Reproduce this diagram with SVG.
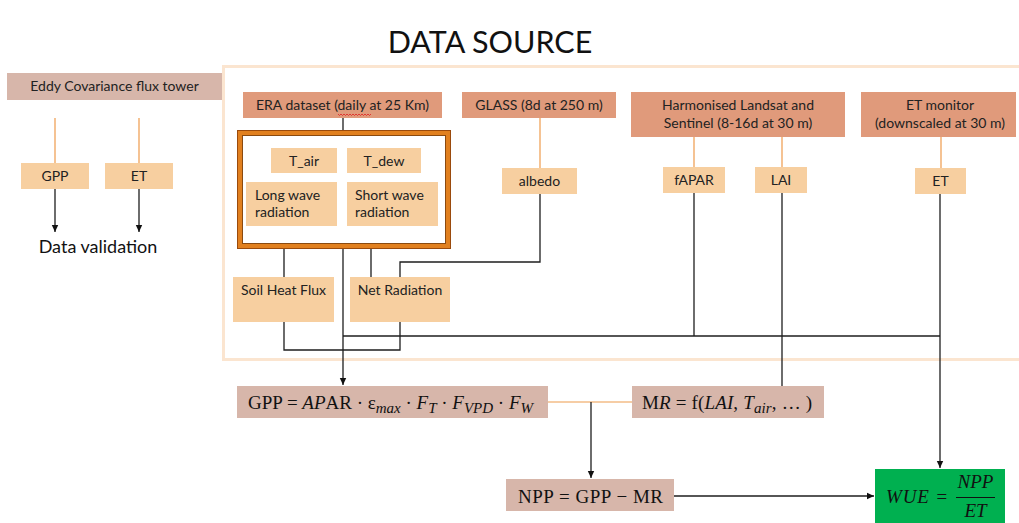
<svg xmlns="http://www.w3.org/2000/svg" width="1019" height="523" viewBox="0 0 1019 523">
<style>
.lbl{font-family:Lato,"Liberation Sans",sans-serif;font-size:14px;fill:#222;}
.math{font-family:"Liberation Serif",serif;font-size:19px;fill:#111;}
.it{font-style:italic;}
.brown{fill:#d7b6aa;}
.salmon{fill:#e09a7b;}
.peach{fill:#f7cfa0;}
.blk{stroke:#1e1e1e;stroke-width:1.3;fill:none;}
.org{stroke:#ee9b4c;stroke-width:1.2;fill:none;}
</style>
<defs>
<marker id="ah" markerWidth="8" markerHeight="8" refX="7" refY="4" orient="auto" markerUnits="userSpaceOnUse">
<path d="M0,0.8 L7,4 L0,7.2 Z" fill="#111"/>
</marker>
</defs>
<rect width="1019" height="523" fill="#fff"/>
<text x="490" y="53" text-anchor="middle" style="font-family:Lato,'Liberation Sans',sans-serif;font-size:30.5px;fill:#111">DATA SOURCE</text>
<rect x="223.5" y="66.5" width="800" height="293" fill="none" stroke="#fbe5d0" stroke-width="3"/>

<g id="eddy">
<rect class="brown" x="7" y="73" width="215" height="27"/>
<text class="lbl" x="114.5" y="91" text-anchor="middle">Eddy Covariance flux tower</text>
</g>
<g id="gpp-tower"><rect class="peach" x="21" y="163" width="68" height="26"/><text class="lbl" x="55" y="181" text-anchor="middle">GPP</text></g>
<g id="et-tower"><rect class="peach" x="105" y="163" width="68" height="26"/><text class="lbl" x="139" y="181" text-anchor="middle">ET</text></g>
<g id="validation"><text x="98" y="253" text-anchor="middle" style="font-family:Lato,'Liberation Sans',sans-serif;font-size:18px;fill:#111">Data validation</text></g>

<g id="era">
<rect class="salmon" x="243" y="92" width="199" height="26"/>
<text class="lbl" x="342.5" y="110" text-anchor="middle">ERA dataset (daily at 25 Km)</text>
<path d="M338,114 l1.5,1.5 l1.5,-1.5 l1.5,1.5 l1.5,-1.5 l1.5,1.5 l1.5,-1.5 l1.5,1.5 l1.5,-1.5 l1.5,1.5 l1.5,-1.5 l1.5,1.5 l1.5,-1.5 l1.5,1.5 l1.5,-1.5 l1.5,1.5 l1.5,-1.5 l1.5,1.5 l1.5,-1.5 l1.5,1.5 l1.5,-1.5 l1.5,1.5 l1.5,-1.5" fill="none" stroke="#e02020" stroke-width="0.8"/>
</g>
<g id="era-group">
<rect x="237.5" y="130.5" width="213" height="118" fill="none" stroke="#9a4a0c" stroke-width="1"/>
<rect x="240" y="133" width="208" height="113" fill="none" stroke="#e1801f" stroke-width="4"/>
<rect x="242.5" y="135.5" width="203" height="108" fill="#fff" stroke="#8a4a10" stroke-width="1"/>
</g>
<g id="tair"><rect class="peach" x="271" y="148" width="66" height="25"/><text class="lbl" x="304" y="165.5" text-anchor="middle">T_air</text></g>
<g id="tdew"><rect class="peach" x="347" y="148" width="74" height="25"/><text class="lbl" x="384" y="165.5" text-anchor="middle">T_dew</text></g>
<g id="longwave"><rect class="peach" x="246" y="182" width="91" height="44"/><text class="lbl" x="255" y="200">Long wave</text><text class="lbl" x="255" y="217">radiation</text></g>
<g id="shortwave"><rect class="peach" x="347" y="182" width="91" height="44"/><text class="lbl" x="355" y="200">Short wave</text><text class="lbl" x="355" y="217">radiation</text></g>

<g id="soil"><rect class="peach" x="233" y="277" width="101" height="45"/><text class="lbl" x="283.5" y="295" text-anchor="middle">Soil Heat Flux</text></g>
<g id="netrad"><rect class="peach" x="350" y="277" width="100" height="45"/><text class="lbl" x="400" y="295" text-anchor="middle">Net Radiation</text></g>

<g id="glass"><rect class="salmon" x="462" y="92" width="154" height="26"/><text class="lbl" x="539" y="110" text-anchor="middle">GLASS (8d at 250 m)</text></g>
<g id="albedo"><rect class="peach" x="502" y="168" width="75" height="26"/><text class="lbl" x="539.5" y="186" text-anchor="middle">albedo</text></g>

<g id="hls"><rect class="salmon" x="631" y="92" width="214" height="45"/><text class="lbl" x="738" y="110" text-anchor="middle">Harmonised Landsat and</text><text class="lbl" x="738" y="128" text-anchor="middle">Sentinel (8-16d at 30 m)</text></g>
<g id="fapar"><rect class="peach" x="663" y="167" width="62" height="26"/><text class="lbl" x="694" y="185" text-anchor="middle">fAPAR</text></g>
<g id="lai"><rect class="peach" x="755" y="167" width="52" height="26"/><text class="lbl" x="781" y="185" text-anchor="middle">LAI</text></g>

<g id="etmon"><rect class="salmon" x="861" y="92" width="155" height="45"/><text class="lbl" x="940" y="110" text-anchor="middle">ET monitor</text><text class="lbl" x="940" y="128" text-anchor="middle">(downscaled at 30 m)</text></g>
<g id="et"><rect class="peach" x="915" y="168" width="51" height="26"/><text class="lbl" x="940.5" y="186" text-anchor="middle">ET</text></g>

<g id="gpp">
<rect class="brown" x="237" y="386" width="311" height="32"/>
<text class="math" x="248" y="409" textLength="285" lengthAdjust="spacing">GPP = <tspan class="it">AP</tspan>AR · ε<tspan class="it" font-size="15" dy="4">max</tspan><tspan dy="-4"> · </tspan><tspan class="it">F</tspan><tspan class="it" font-size="15" dy="4">T</tspan><tspan dy="-4"> · </tspan><tspan class="it">F</tspan><tspan class="it" font-size="15" dy="4">VPD</tspan><tspan dy="-4"> · </tspan><tspan class="it">F</tspan><tspan class="it" font-size="15" dy="4">W</tspan></text>
</g>
<g id="mr">
<rect class="brown" x="632" y="386" width="192" height="32"/>
<text class="math" x="642" y="409" textLength="170" lengthAdjust="spacing">M<tspan class="it">R</tspan> = f(<tspan class="it">LAI</tspan>, <tspan class="it">T</tspan><tspan class="it" font-size="15" dy="4">air</tspan><tspan dy="-4">, … )</tspan></text>
</g>
<g id="npp">
<rect class="brown" x="506" y="479" width="168" height="32"/>
<text class="math" x="518" y="503" textLength="145" lengthAdjust="spacing">NPP = GPP − MR</text>
</g>
<g id="wue">
<rect x="875" y="469" width="130" height="54" fill="#00b050"/>
<text class="math it" x="886" y="503" font-size="20" textLength="62" lengthAdjust="spacing">WUE =</text>
<line x1="956" y1="497.5" x2="995" y2="497.5" stroke="#111" stroke-width="1"/>
<text class="math it" x="975.5" y="488" font-size="20" text-anchor="middle">NPP</text>
<text class="math it" x="975.5" y="517" font-size="20" text-anchor="middle">ET</text>
</g>

<g id="connectors">
<path class="org" d="M55,118 V163 M139,118 V163"/>
<path class="blk" d="M55,189 V232" marker-end="url(#ah)"/>
<path class="blk" d="M139,189 V232" marker-end="url(#ah)"/>
<path class="blk" d="M343,118 V130"/>
<path class="blk" d="M284,249 V277 M371,249 V277"/>
<path class="blk" d="M343,249 V385" marker-end="url(#ah)"/>
<path class="org" d="M540,118 V168"/>
<path class="blk" d="M540,194 V262 H400 V277"/>
<path class="blk" d="M284,322 V350 H400 V322"/>
<path class="blk" d="M343,336 H940"/>
<path class="org" d="M694,137 V167 M782,137 V167 M941,137 V168"/>
<path class="blk" d="M694,193 V336"/>
<path class="blk" d="M782,193 V386"/>
<path class="blk" d="M940,194 V468" marker-end="url(#ah)"/>
<path class="org" d="M548,402 H632"/>
<path class="blk" d="M591,402 V478" marker-end="url(#ah)"/>
<path class="blk" d="M674,496 H874" marker-end="url(#ah)"/>
</g>
</svg>
